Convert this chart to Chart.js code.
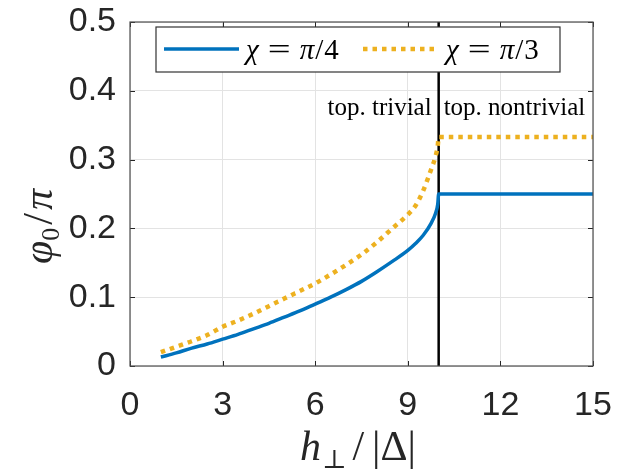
<!DOCTYPE html>
<html>
<head>
<meta charset="utf-8">
<script src="https://cdn.jsdelivr.net/npm/chart.js@4"></script>
<style>
  html, body { margin: 0; padding: 0; background: #fff; }
  #wrap { width: 626px; height: 472px; }
</style>
</head>
<body>
<div id="wrap"><canvas id="c" width="626" height="472"></canvas></div>
<script>
// ---------- data ----------
const hPerp = [1, 1.5, 2, 2.5, 3, 3.5, 4, 4.5, 5, 5.5, 6, 6.5, 7, 7.5, 8, 8.5, 9, 9.25, 9.5, 9.75, 9.9, 9.97, 10, 15];
const phiPi4 = [0.013, 0.019, 0.026, 0.032, 0.039, 0.046, 0.054, 0.062, 0.071, 0.080, 0.090, 0.100, 0.111, 0.123,
                0.137, 0.152, 0.168, 0.178, 0.190, 0.207, 0.222, 0.235, 0.25, 0.25];
const phiPi3 = [0.020, 0.028, 0.036, 0.045, 0.057, 0.066, 0.076, 0.087, 0.098, 0.109, 0.120, 0.133, 0.147, 0.162,
                0.180, 0.200, 0.220, 0.233, 0.255, 0.285, 0.305, 0.320, 0.333, 0.333];
const transitionX = [10, 10];
const transitionY = [0, 0.5];
const seriesLabels = ['\u03c7 = \u03c0/4', '\u03c7 = \u03c0/3'];
const regionLabels = ['top. trivial', 'top. nontrivial'];
const xTicks = [0, 3, 6, 9, 12, 15];
const yTicks = [0, 0.1, 0.2, 0.3, 0.4, 0.5];

const BLUE = '#0072BD', ORANGE = '#EDB120', AXIS = '#262626';
const SANS = '"Liberation Sans", Arial, sans-serif';
const SERIF = '"Liberation Serif", "DejaVu Serif", serif';

const pts = (xs, ys) => xs.map((x, i) => ({ x, y: ys[i] }));

// draw a run of [text, font, dx, dy, stretch] pieces left to right
function pieces(ctx, list, x0, base) {
  let cx = x0;
  list.forEach(([t, f, dx = 0, dy = 0, sx = 1]) => {
    ctx.font = f;
    cx += dx;
    ctx.save();
    ctx.translate(cx, base + dy);
    ctx.scale(sx, 1);
    ctx.fillText(t, 0, 0);
    ctx.restore();
    cx += ctx.measureText(t).width * sx;
  });
  return cx;
}

// labels may overhang the plot box; keep the box where the figure has it
function noOverhang(s) {
  s.paddingTop = s.paddingBottom = s.paddingLeft = s.paddingRight = 0;
}

// ---------- decorations: box, inward ticks, labels, legend ----------
const decor = {
  id: 'decor',
  afterDraw(chart) {
    const { ctx, chartArea: a, scales: { x, y } } = chart;
    ctx.save();
    // inward ticks on all four sides
    ctx.strokeStyle = AXIS; ctx.lineWidth = 1;
    xTicks.forEach(v => {
      const px = Math.round(x.getPixelForValue(v)) + 0.5;
      ctx.beginPath();
      ctx.moveTo(px, a.bottom); ctx.lineTo(px, a.bottom - 5);
      ctx.moveTo(px, a.top); ctx.lineTo(px, a.top + 5);
      ctx.stroke();
    });
    yTicks.forEach(v => {
      const py = Math.round(y.getPixelForValue(v)) + 0.5;
      ctx.beginPath();
      ctx.moveTo(a.left, py); ctx.lineTo(a.left + 5, py);
      ctx.moveTo(a.right, py); ctx.lineTo(a.right - 5, py);
      ctx.stroke();
    });
    ctx.strokeStyle = '#4d4d4d'; ctx.lineWidth = 1.2;
    ctx.strokeRect(a.left, a.top, a.right - a.left, a.bottom - a.top);

    // region labels either side of the transition
    const xT = x.getPixelForValue(transitionX[0]);
    const yL = y.getPixelForValue(0.365);
    ctx.fillStyle = '#000';
    ctx.font = '25px ' + SERIF;
    ctx.textBaseline = 'alphabetic';
    ctx.textAlign = 'right'; ctx.fillText(regionLabels[0], xT - 7, yL);
    ctx.textAlign = 'left'; ctx.fillText(regionLabels[1], xT + 5, yL);

    // legend
    const lx = 156, ly = 27, lw = 404, lh = 45, cy = ly + 22;
    ctx.fillStyle = '#fff'; ctx.fillRect(lx, ly, lw, lh);
    ctx.strokeStyle = '#333'; ctx.lineWidth = 1.2; ctx.strokeRect(lx, ly, lw, lh);
    const ds = chart.data.datasets;
    [[164, 239, 245], [363, 436, 445]].forEach(([s, e, t], i) => {
      ctx.strokeStyle = ds[i].borderColor; ctx.lineWidth = ds[i].borderWidth;
      ctx.setLineDash(ds[i].borderDash || []);
      ctx.beginPath(); ctx.moveTo(s, cy); ctx.lineTo(e, cy); ctx.stroke();
      ctx.setLineDash([]);
      ctx.fillStyle = '#000'; ctx.textAlign = 'left';
      const parts = [...ds[i].label].filter(ch => ch !== ' ').map(ch => {
        const f = (/[\u0370-\u03ff]/.test(ch) ? 'italic ' : '') + '29px ' + SERIF;
        if (ch === '=') return [ch, f, 9, 0, 1.4];
        if (ch === '\u03c0') return [ch, f, 9];
        return [ch, f, 1];
      });
      pieces(ctx, parts, t, cy + 10);
    });

    // x title  h_perp / |Delta|
    ctx.fillStyle = AXIS; ctx.textAlign = 'left';
    pieces(ctx, [
      ['h', 'italic 42px ' + SERIF],
      ['\u22a5', '26px ' + SERIF, 1, 8],
      ['/', '42px ' + SERIF, 6],
      ['|\u0394|', '42px ' + SERIF, 8]
    ], 300, 460);

    // y title  phi_0 / pi
    ctx.translate(52, 264); ctx.rotate(-Math.PI / 2);
    pieces(ctx, [
      ['\u03c6', 'italic 42px ' + SERIF],
      ['0', '26px ' + SERIF, 0, 7],
      ['/', '42px ' + SERIF, 3],
      ['\u03c0', 'italic 42px ' + SERIF, 3]
    ], 0, 0);
    ctx.restore();
  }
};

new Chart(document.getElementById('c'), {
  type: 'scatter',
  data: {
    datasets: [
      { label: seriesLabels[0], data: pts(hPerp, phiPi4), showLine: true, borderColor: BLUE,
        borderWidth: 3.5, pointRadius: 0, cubicInterpolationMode: 'monotone' },
      { label: seriesLabels[1], data: pts(hPerp, phiPi3), showLine: true, borderColor: ORANGE,
        borderWidth: 4.5, borderDash: [4.5, 5], borderCapStyle: 'butt', pointRadius: 0,
        cubicInterpolationMode: 'monotone' },
      { label: 'transition', data: pts(transitionX, transitionY), showLine: true, borderColor: '#000',
        borderWidth: 2.5, pointRadius: 0 }
    ]
  },
  options: {
    responsive: false,
    animation: false,
    layout: { padding: { top: 22, right: 33, left: 0, bottom: 0 } },
    plugins: { legend: { display: false }, tooltip: { enabled: false } },
    scales: {
      x: {
        type: 'linear', min: 0, max: 15,
        afterBuildTicks: s => { s.ticks = xTicks.map(v => ({ value: v })); },
        afterFit: s => { s.height = 106; noOverhang(s); },
        ticks: { color: AXIS, font: { family: SANS, size: 34 }, padding: 19 },
        grid: { color: '#e3e3e3', lineWidth: 1, drawTicks: false },
        border: { display: false }
      },
      y: {
        type: 'linear', min: 0, max: 0.5,
        afterBuildTicks: s => { s.ticks = yTicks.map(v => ({ value: v })); },
        afterFit: s => { s.width = 130; noOverhang(s); },
        ticks: { color: AXIS, font: { family: SANS, size: 34 }, padding: 14 },
        grid: { color: '#e3e3e3', lineWidth: 1, drawTicks: false },
        border: { display: false }
      }
    }
  },
  plugins: [decor]
});
</script>
</body>
</html>
